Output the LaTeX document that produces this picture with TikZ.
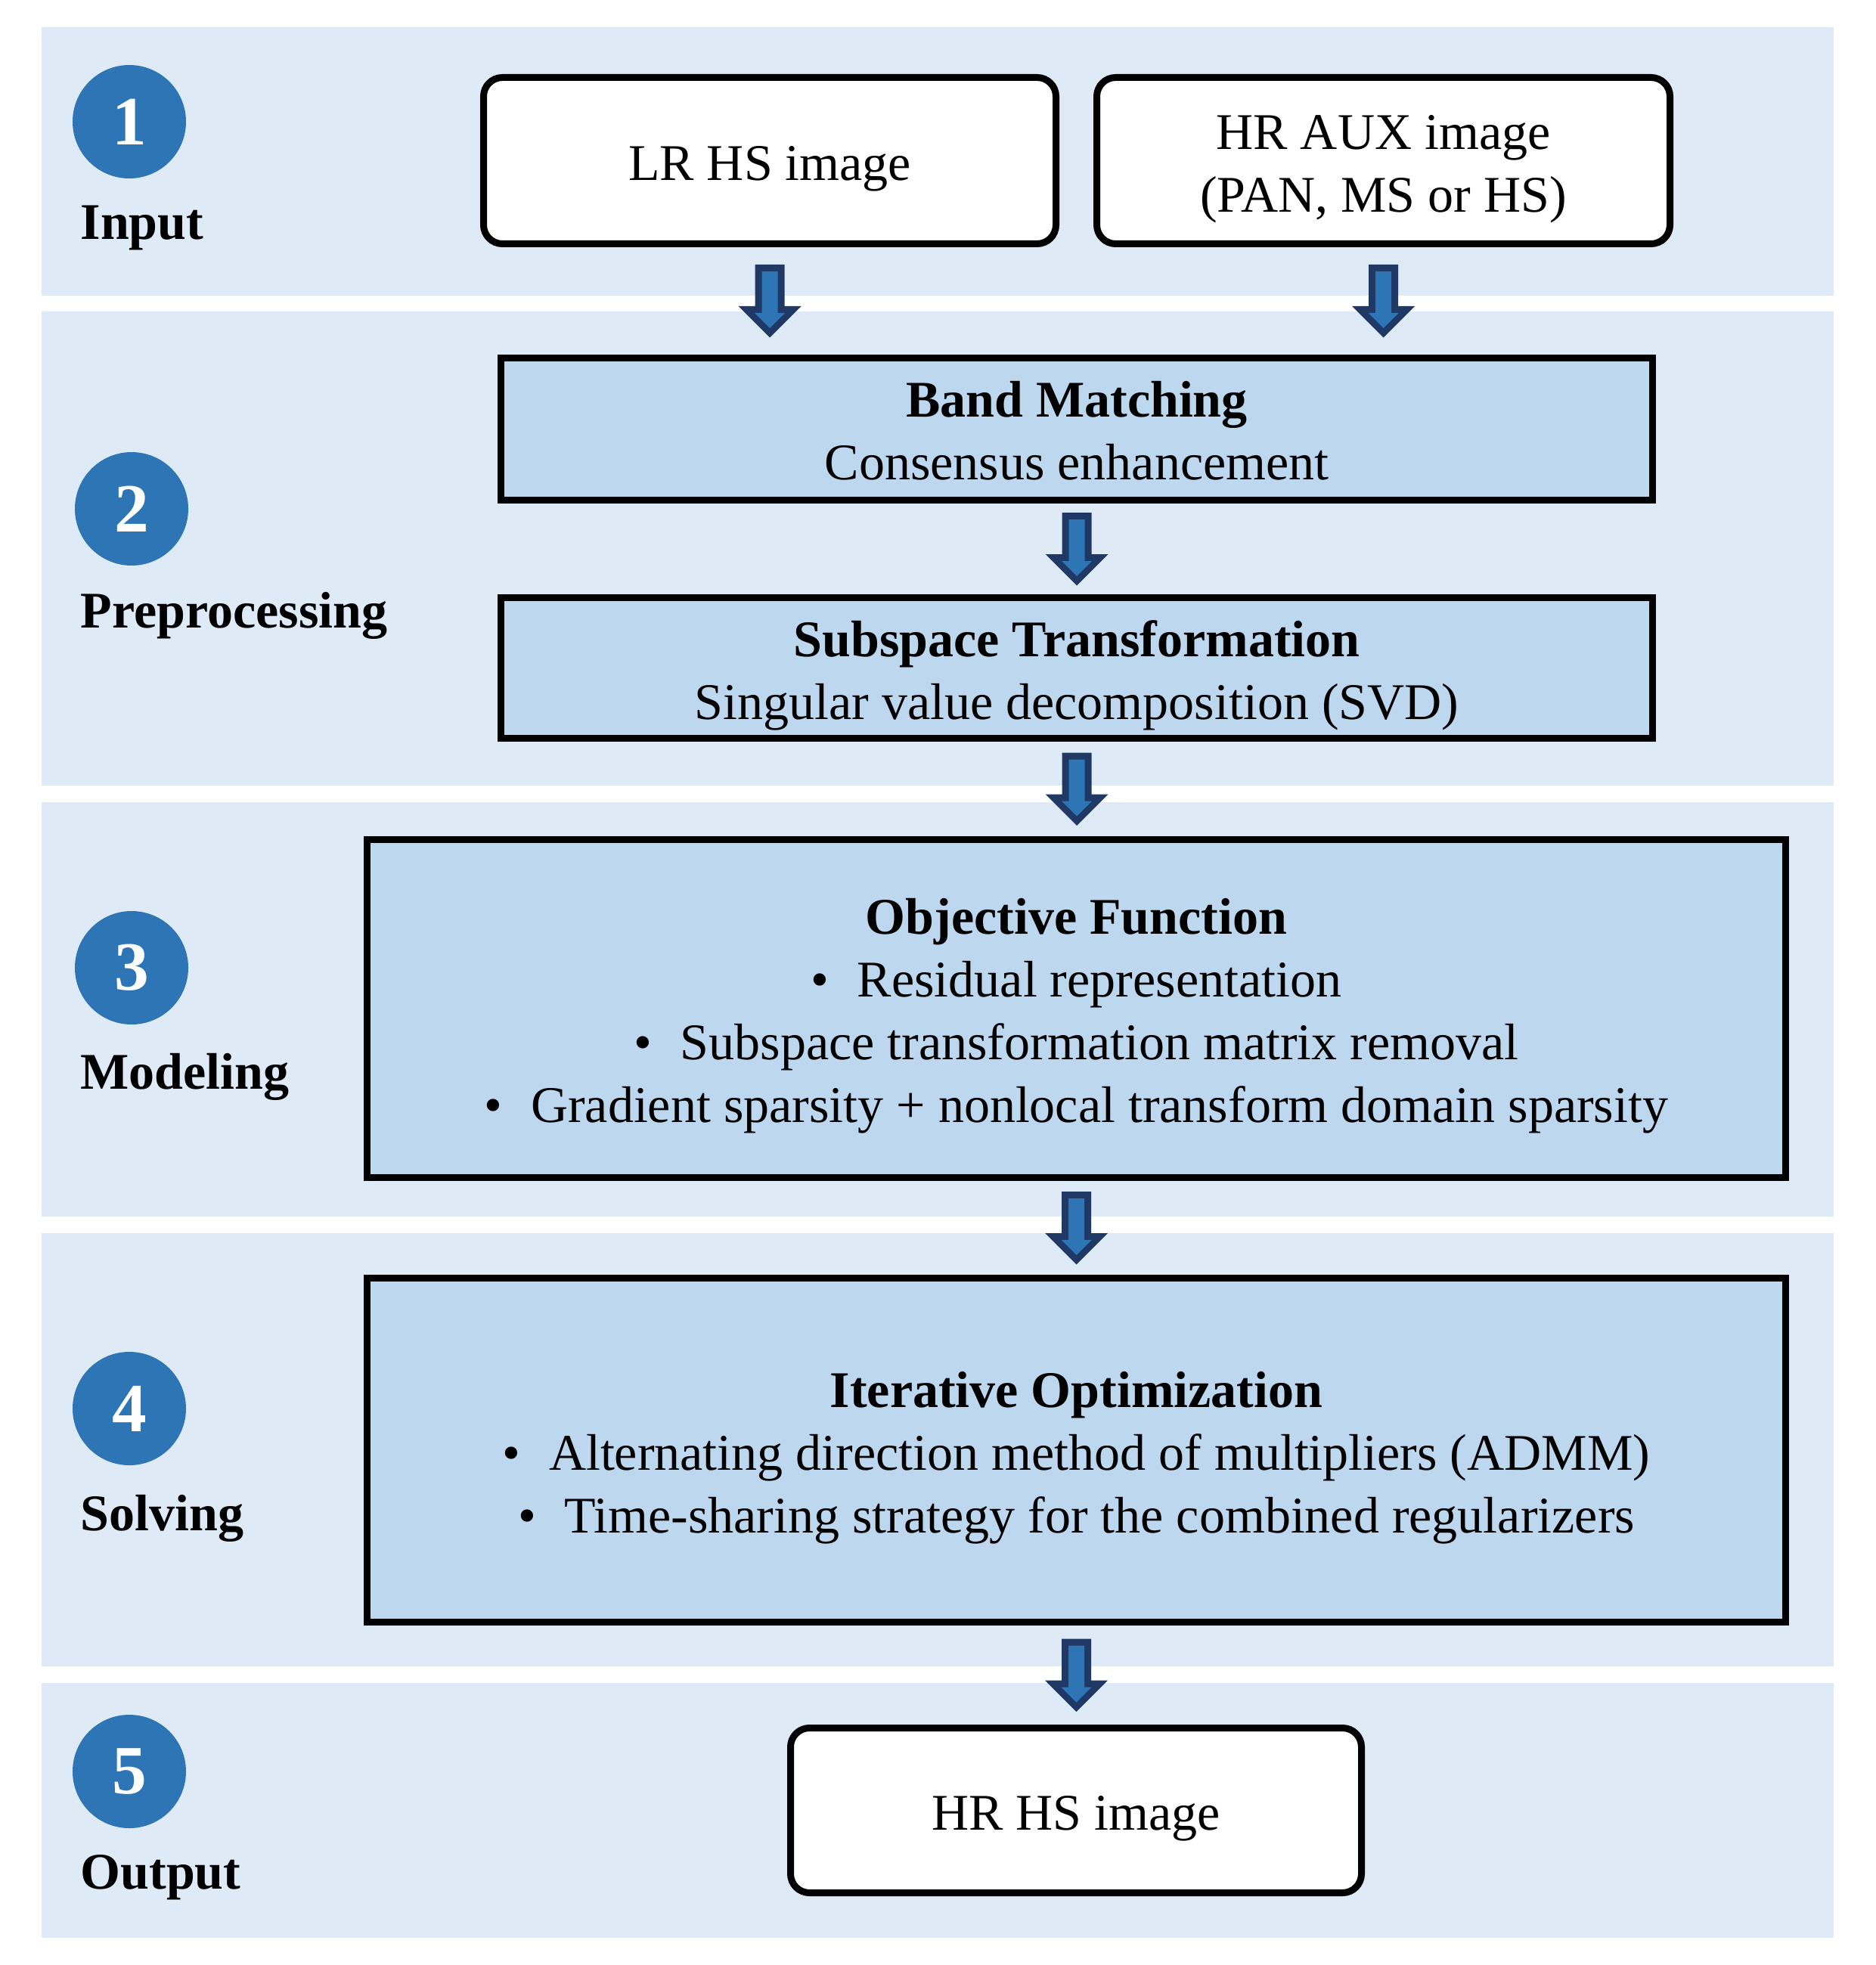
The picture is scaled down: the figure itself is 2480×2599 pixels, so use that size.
\documentclass[tikz,border=0pt]{standalone}
\usepackage{fontspec}
\setmainfont{Liberation Serif}
\usetikzlibrary{calc,positioning}

\definecolor{bandblue}{HTML}{DEEAF6}
\definecolor{boxblue}{HTML}{BDD7EE}
\definecolor{stepblue}{HTML}{2E75B6}
\definecolor{navy}{HTML}{203864}

\newcommand{\topstrut}[1][6.7mm]{\rule{0pt}{#1}}

\begin{document}
\begin{tikzpicture}[x=0.1mm,y=-0.1mm,
	band/.style={fill=bandblue},
	io/.style={draw=black,line width=0.9mm,fill=white,rounded corners=2.5mm,inner sep=0pt,align=center,
		font=\fontsize{19.35}{23.6}\selectfont},
	proc/.style={draw=black,line width=0.9mm,fill=boxblue,inner sep=0pt,align=center,
		font=\fontsize{19.35}{23.6}\selectfont},
	stagenum/.style={circle,fill=stepblue,text=white,inner sep=0pt,minimum size=15mm,
		font=\fontsize{26}{30}\selectfont\bfseries},
	stagename/.style={anchor=base west,inner sep=0pt,font=\fontsize{19.35}{23.6}\selectfont\bfseries},
	pics/flowarrow/.style={code={
		\fill[navy] (-19.5,-48) -- (19.5,-48) -- (19.5,7) -- (41.5,7) -- (0,48.5) -- (-41.5,7) -- (-19.5,7) -- cycle;
		\fill[stepblue] (-10.5,-39) -- (10.5,-39) -- (10.5,16) -- (20,16) -- (0,36) -- (-20,16) -- (-10.5,16) -- cycle;
	}}]
	\useasboundingbox (0,0) rectangle (2480,2599);

	% The stage bands
	\foreach \top/\bot in {36/391,412/1039,1061/1609,1631/2204,2226/2563}
		\fill[band] (55,\top) rectangle (2425,\bot);

	% Stage numbers and names
	\node[stagenum] (num1) at (171,161) {1};
	\node[stagenum] (num2) at (174,673) {2};
	\node[stagenum] (num3) at (174,1280) {3};
	\node[stagenum] (num4) at (171,1863) {4};
	\node[stagenum] (num5) at (171,2343) {5};
	\node[stagename] (input) at (106,317) {Input};
	\node[stagename] (preproc) at (106,830) {Preprocessing};
	\node[stagename] (modeling) at (106,1440) {Modeling};
	\node[stagename] (solving) at (106,2024) {Solving};
	\node[stagename] (output) at (106,2498) {Output};

	% Input images
	\node[io,minimum width=75.7mm,minimum height=22mm] (lrhs) at (1018,212.5) {\topstrut LR HS image};
	\node[io,minimum width=75.8mm,minimum height=22mm] (hraux) at (1829.5,212.5)
		{\topstrut HR AUX image\\(PAN, MS or HS)};

	% Preprocessing
	\node[proc,minimum width=152.3mm,minimum height=18.8mm] (bandmatch) at (1424,567.5)
		{\topstrut[5.1mm]\textbf{Band Matching}\\Consensus enhancement};
	\node[proc,minimum width=152.3mm,minimum height=18.6mm] (subspace) at (1424,883.5)
		{\topstrut\textbf{Subspace Transformation}\\Singular value decomposition (SVD)};

	% Modeling
	\node[proc,minimum width=187.6mm,minimum height=44.7mm] (objective) at (1423.5,1334)
		{\topstrut\textbf{Objective Function}\\
		\textbullet\hspace{0.55em}Residual representation\\
		\textbullet\hspace{0.55em}Subspace transformation matrix removal\\
		\textbullet\hspace{0.55em}Gradient sparsity + nonlocal transform domain sparsity};

	% Solving
	\node[proc,minimum width=187.6mm,minimum height=45.5mm] (iterative) at (1423.5,1918)
		{\topstrut\textbf{Iterative Optimization}\\
		\textbullet\hspace{0.55em}Alternating direction method of multipliers (ADMM)\\
		\textbullet\hspace{0.55em}Time-sharing strategy for the combined regularizers};

	% Output image
	\node[io,minimum width=75.5mm,minimum height=21.8mm] (hrhs) at (1423,2394.5) {\topstrut HR HS image};

	% Block arrows between the stages
	\pic at ($(lrhs.south)!.5!(lrhs.south |- bandmatch.north)$) {flowarrow};
	\pic at ($(hraux.south)!.5!(hraux.south |- bandmatch.north)$) {flowarrow};
	\pic at ($(bandmatch.south)!.5!(subspace.north)$) {flowarrow};
	\pic at ($(subspace.south)!.5!(subspace.south |- objective.north)$) {flowarrow};
	\pic at ($(objective.south)!.5!(iterative.north)$) {flowarrow};
	\pic at ($(iterative.south)!.5!(iterative.south |- hrhs.north)$) {flowarrow};
\end{tikzpicture}
\end{document}
